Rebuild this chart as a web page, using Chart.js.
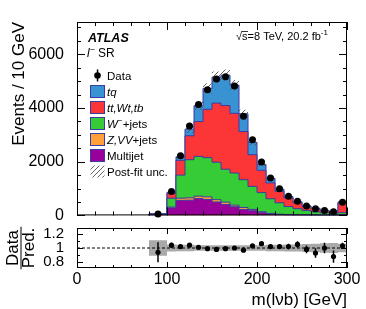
<!DOCTYPE html>
<html>
<head>
<meta charset="utf-8">
<script src="https://cdn.jsdelivr.net/npm/chart.js@4.4.1/dist/chart.umd.min.js"></script>
<style>
html, body { margin: 0; padding: 0; background: #fff; }
#wrap { position: relative; width: 366px; height: 309px; overflow: hidden; }
canvas { position: absolute; left: 0; }
</style>
</head>
<body>
<div id="wrap">
  <canvas id="main" width="366" height="230" style="top:0"></canvas>
  <canvas id="ratio" width="366" height="95" style="top:214px"></canvas>
</div>
<script>
// bins of m(lvb) in GeV (first bin is 80-100)
var binEdges = [80, 100, 110, 120, 130, 140, 150, 160, 170, 180, 190, 200, 210, 220, 230, 240, 250, 260, 270, 280, 290, 300];
var binCenters = [90, 105, 115, 125, 135, 145, 155, 165, 175, 185, 195, 205, 215, 225, 235, 245, 255, 265, 275, 285, 295];

// stacked predictions, events per bin (bottom to top)
var multijet = [30, 280, 560, 567, 630, 593, 500, 407, 322, 222, 174, 100, 48, 25, 15, 10, 8, 6, 5, 4, 10];
var zvvJets  = [2, 30, 80, 88, 86, 97, 85, 86, 60, 74, 48, 37, 26, 20, 15, 12, 8, 6, 4, 3, 10];
var wJets    = [13, 330, 860, 1419, 1480, 1460, 1395, 1227, 1198, 1034, 858, 713, 546, 425, 300, 228, 164, 118, 91, 73, 80];
var ttWtTb   = [7, 190, 550, 889, 1298, 1800, 2200, 2370, 2220, 1792, 1179, 829, 590, 430, 320, 220, 150, 115, 70, 60, 360];
var tq       = [6, 30, 130, 247, 586, 780, 970, 1130, 1050, 658, 461, 221, 170, 75, 55, 40, 25, 23, 18, 15, 40];

// observed data and ratio panel
var dataObs  = [55, 890, 2220, 3330, 4130, 4680, 5074, 5160, 4815, 3690, 2815, 1990, 1390, 990, 716, 531, 346, 247, 185, 136, 494];
var ratio    = [0.94, 1.04, 1.02, 1.04, 1.01, 0.99, 0.98, 0.99, 1.0, 0.97, 1.03, 1.06, 1.02, 1.02, 1.02, 1.05, 0.98, 0.93, 1.0, 0.88, 1.03];
var dataErr  = [0.14, 0.035, 0.022, 0.018, 0.016, 0.015, 0.014, 0.014, 0.015, 0.017, 0.019, 0.023, 0.027, 0.032, 0.038, 0.045, 0.055, 0.065, 0.075, 0.085, 0.045];
var postFitUnc = [0.11, 0.05, 0.045, 0.045, 0.04, 0.04, 0.04, 0.04, 0.04, 0.04, 0.04, 0.04, 0.045, 0.045, 0.05, 0.05, 0.055, 0.06, 0.065, 0.07, 0.06];

var yTicks = [0, 2000, 4000, 6000];
var ratioTicks = [0.8, 1, 1.2];
var xTicks = [0, 100, 200, 300];

var seriesNames = ['Data', 'tq', 'tt,Wt,tb', 'W', 'Z,VV', 'Multijet', 'Post-fit unc.'];

var FONT = '"Liberation Sans", Arial, Helvetica, sans-serif';
var col = { tq: '#3993d3', tt: '#fc3636', w: '#35cc35', z: '#ffa03a', mj: '#990099', edge: '#3b3ba3', band: '#a9a9a9' };

function hatchPattern(ctx) {
    var c = document.createElement('canvas');
    c.width = c.height = 5;
    var g = c.getContext('2d');
    g.strokeStyle = '#555';
    g.lineWidth = 0.9;
    g.beginPath();
    g.moveTo(0, 5); g.lineTo(5, 0);
    g.moveTo(-1, 1); g.lineTo(1, -1);
    g.moveTo(4, 6); g.lineTo(6, 4);
    g.stroke();
    return ctx.createPattern(c, 'repeat');
}

function stepPoints(vals, fromZero) {
    var pts = fromZero ? [{ x: binEdges[0], y: 0 }] : [];
    vals.forEach(function(v, i) { pts.push({ x: binEdges[i], y: v }); });
    pts.push({ x: binEdges[vals.length], y: vals[vals.length - 1] });
    return pts;
}

function cumulate(list) {
    var out = [], run = binCenters.map(function() { return 0; });
    list.forEach(function(a) {
        run = run.map(function(r, i) { return r + a[i]; });
        out.push(run.slice());
    });
    return out;
}

var cum = cumulate([multijet, zvvJets, wJets, ttWtTb, tq]);
var total = cum[4];

function plain(v) { return String(v); }

function rich(ctx, x, y, parts, size) {
    parts.forEach(function(p) {
        var s = p.sup ? size * 0.72 : size;
        ctx.font = (p.it ? 'italic ' : '') + (p.b ? 'bold ' : '') + s + 'px ' + FONT;
        ctx.fillText(p.t, x, p.sup ? y - size * 0.42 : y);
        x += ctx.measureText(p.t).width;
    });
    return x;
}

// frame with inward ticks on all sides
var framePlugin = {
    id: 'frame',
    afterDraw: function(chart, args, o) {
        var a = chart.chartArea, ctx = chart.ctx, xs = chart.scales.x, ys = chart.scales.y;
        ctx.save();
        ctx.strokeStyle = '#000';
        ctx.lineWidth = 1;
        ctx.beginPath();
        var v, px, L;
        for (v = 0; v <= xs.max + 1e-9; v += o.xMinor) {
            px = Math.round(xs.getPixelForValue(v)) + 0.5;
            L = Math.abs(v / o.xMajor - Math.round(v / o.xMajor)) < 1e-6 ? o.major : o.minor;
            ctx.moveTo(px, a.bottom); ctx.lineTo(px, a.bottom - L);
            ctx.moveTo(px, a.top); ctx.lineTo(px, a.top + L);
        }
        for (v = Math.ceil(ys.min / o.yMinor - 1e-9) * o.yMinor; v <= ys.max + 1e-9; v += o.yMinor) {
            px = Math.round(ys.getPixelForValue(v)) + 0.5;
            L = Math.abs(v / o.yMajor - Math.round(v / o.yMajor)) < 1e-6 ? o.major : o.minor;
            ctx.moveTo(a.left, px); ctx.lineTo(a.left + L, px);
            ctx.moveTo(a.right, px); ctx.lineTo(a.right - L, px);
        }
        ctx.stroke();
        ctx.strokeRect(a.left + 0.5, a.top + 0.5, a.right - a.left - 1, a.bottom - a.top - 1);
        ctx.restore();
    }
};

// vertical error bars on the data markers
var errPlugin = {
    id: 'errbars',
    afterDatasetsDraw: function(chart, args, o) {
        var ctx = chart.ctx, xs = chart.scales.x, ys = chart.scales.y;
        ctx.save();
        ctx.strokeStyle = '#000';
        ctx.lineWidth = 1.5;
        ctx.beginPath();
        o.values.forEach(function(v, i) {
            var e = o.absolute ? o.err[i] : v * o.err[i];
            var px = xs.getPixelForValue(binCenters[i]);
            ctx.moveTo(px, ys.getPixelForValue(v - e));
            ctx.lineTo(px, ys.getPixelForValue(v + e));
        });
        ctx.stroke();
        ctx.restore();
    }
};

var mainCtx = document.getElementById('main').getContext('2d');
var hatch = hatchPattern(mainCtx);

var labelsPlugin = {
    id: 'labels',
    afterDraw: function(chart) {
        var ctx = chart.ctx;
        ctx.save();
        ctx.fillStyle = '#000';
        ctx.textBaseline = 'alphabetic';
        rich(ctx, 88, 42, [{ t: 'ATLAS', it: true, b: true }], 12.5);
        rich(ctx, 87, 57, [{ t: 'l', it: true }, { t: '\u2212', sup: true }, { t: ' SR' }], 12);

        // sqrt(s) label
        var parts = [{ t: '\u221A' }, { t: 's=8 TeV, 20.2 fb' }, { t: '-1', sup: true }];
        var x0 = 236;
        rich(ctx, x0, 40, parts, 11);
        ctx.font = '11px ' + FONT;
        var rw = ctx.measureText('\u221A').width, sw = ctx.measureText('s').width;
        ctx.fillRect(x0 + rw - 0.5, 31, sw + 1, 0.8);

        var rows = [
            { kind: 'data', parts: [{ t: seriesNames[0] }] },
            { kind: 'box', color: col.tq, parts: [{ t: seriesNames[1], it: true }] },
            { kind: 'box', color: col.tt, parts: [{ t: seriesNames[2], it: true }] },
            { kind: 'box', color: col.w, parts: [{ t: seriesNames[3], it: true }, { t: '\u2212', sup: true }, { t: '+jets' }] },
            { kind: 'box', color: col.z, parts: [{ t: seriesNames[4], it: true }, { t: '+jets' }] },
            { kind: 'box', color: col.mj, parts: [{ t: seriesNames[5] }] },
            { kind: 'hatch', parts: [{ t: seriesNames[6] }] }
        ];
        rows.forEach(function(r, i) {
            var cy = 75.5 + 16 * i;
            if (r.kind === 'data') {
                ctx.beginPath();
                ctx.arc(97.5, cy, 3.3, 0, Math.PI * 2);
                ctx.fill();
                ctx.fillRect(96.8, cy - 6, 1.5, 12);
            } else if (r.kind === 'box') {
                ctx.fillStyle = r.color;
                ctx.fillRect(90.5, cy - 6, 14, 12);
                ctx.strokeStyle = col.edge;
                ctx.lineWidth = 1;
                ctx.strokeRect(90.5, cy - 6, 14, 12);
                ctx.fillStyle = '#000';
            } else {
                ctx.fillStyle = hatch;
                ctx.fillRect(90.5, cy - 6, 14, 12);
                ctx.fillStyle = '#000';
            }
            rich(ctx, 107, cy + 4, r.parts, 11.5);
        });
        ctx.restore();
    }
};

function stackSet(vals, color, order) {
    return {
        data: stepPoints(vals, true), stepped: 'before', fill: 'origin',
        backgroundColor: color, borderColor: col.edge, borderWidth: 1,
        pointRadius: 0, order: order
    };
}

new Chart(mainCtx, {
    type: 'line',
    data: {
        datasets: [
            {
                data: binCenters.map(function(x, i) { return { x: x, y: dataObs[i] }; }),
                showLine: false, pointRadius: 3.5, pointBackgroundColor: '#000', pointBorderWidth: 0,
                order: 0, clip: false
            },
            {
                data: stepPoints(total.map(function(t, i) { return t * (1 + postFitUnc[i]); }), false),
                stepped: 'before', fill: '+1', backgroundColor: hatch, borderWidth: 0, pointRadius: 0, order: 1
            },
            {
                data: stepPoints(total.map(function(t, i) { return t * (1 - postFitUnc[i]); }), false),
                stepped: 'before', fill: false, borderWidth: 0, pointRadius: 0, order: 2
            },
            stackSet(cum[0], col.mj, 3),
            stackSet(cum[1], col.z, 4),
            stackSet(cum[2], col.w, 5),
            stackSet(cum[3], col.tt, 6),
            stackSet(cum[4], col.tq, 7)
        ]
    },
    options: {
        responsive: false,
        animation: false,
        events: [],
        layout: { autoPadding: false, padding: { top: 22, right: 19, bottom: 14, left: 0 } },
        scales: {
            x: { type: 'linear', min: 0, max: 300, display: false },
            y: {
                type: 'linear', min: 0, max: 7200,
                grid: { display: false }, border: { display: false },
                afterBuildTicks: function(s) { s.ticks = yTicks.map(function(v) { return { value: v }; }); },
                afterFit: function(s) { s.width = 77; },
                ticks: { color: '#000', padding: 5, autoSkip: false, callback: plain, font: { family: FONT, size: 16 } },
                title: { display: true, text: 'Events / 10 GeV', align: 'end', color: '#000',
                         font: { family: FONT, size: 17 }, padding: { top: 9, bottom: 0 } }
            }
        },
        plugins: {
            legend: { display: false },
            tooltip: { enabled: false },
            frame: { xMinor: 20, xMajor: 100, yMinor: 500, yMajor: 2000, major: 8, minor: 4 },
            errbars: { values: dataObs, err: dataErr }
        }
    },
    plugins: [framePlugin, errPlugin, labelsPlugin]
});

var ratioTitlePlugin = {
    id: 'ratioTitle',
    afterDraw: function(chart) {
        var ctx = chart.ctx, a = chart.chartArea;
        var mid = (a.top + a.bottom) / 2;
        ctx.save();
        ctx.font = '17px ' + FONT;
        var w = ctx.measureText('Pred.').width;
        ctx.fillStyle = '#000';
        ctx.fillRect(20.5, mid - w / 2 - 1, 1, w + 2);
        ctx.restore();
    }
};

new Chart(document.getElementById('ratio').getContext('2d'), {
    type: 'line',
    data: {
        datasets: [
            {
                data: binCenters.map(function(x, i) { return { x: x, y: ratio[i] }; }),
                showLine: false, pointRadius: 2.6, pointBackgroundColor: '#000', pointBorderWidth: 0,
                order: 0, clip: false
            },
            {
                data: [{ x: 0, y: 1 }, { x: 300, y: 1 }],
                borderColor: '#000', borderWidth: 1, borderDash: [3, 2], pointRadius: 0, fill: false, order: 1
            },
            {
                data: stepPoints(postFitUnc.map(function(u) { return 1 + u; }), false),
                stepped: 'before', fill: '+1', backgroundColor: col.band, borderWidth: 0, pointRadius: 0, order: 2
            },
            {
                data: stepPoints(postFitUnc.map(function(u) { return 1 - u; }), false),
                stepped: 'before', fill: false, borderWidth: 0, pointRadius: 0, order: 3
            }
        ]
    },
    options: {
        responsive: false,
        animation: false,
        events: [],
        layout: { autoPadding: false, padding: { top: 12, right: 19, bottom: 0, left: 0 } },
        scales: {
            x: {
                type: 'linear', min: 0, max: 300,
                grid: { display: false }, border: { display: false },
                afterBuildTicks: function(s) { s.ticks = xTicks.map(function(v) { return { value: v }; }); },
                afterFit: function(s) { s.height = 41; },
                ticks: { color: '#000', padding: -6, maxRotation: 0, autoSkip: false, callback: plain, font: { family: FONT, size: 16 } },
                title: { display: true, text: 'm(l\u03BDb) [GeV]', align: 'end', color: '#000',
                         font: { family: FONT, size: 17 }, padding: { top: 0, bottom: -2 } }
            },
            y: {
                type: 'linear', min: 0.72, max: 1.28,
                grid: { display: false }, border: { display: false },
                afterBuildTicks: function(s) { s.ticks = ratioTicks.map(function(v) { return { value: v }; }); },
                afterFit: function(s) { s.width = 77; },
                ticks: { color: '#000', padding: 5, autoSkip: false, callback: plain, font: { family: FONT, size: 15 } },
                title: { display: true, text: ['Data', 'Pred.'], align: 'center', color: '#000',
                         font: { family: FONT, size: 17, lineHeight: 0.9 }, padding: { top: 6, bottom: 0 } }
            }
        },
        plugins: {
            legend: { display: false },
            tooltip: { enabled: false },
            frame: { xMinor: 20, xMajor: 100, yMinor: 0.1, yMajor: 0.2, major: 6, minor: 3 },
            errbars: { values: ratio, err: dataErr, absolute: true }
        }
    },
    plugins: [framePlugin, errPlugin, ratioTitlePlugin]
});
</script>
</body>
</html>
